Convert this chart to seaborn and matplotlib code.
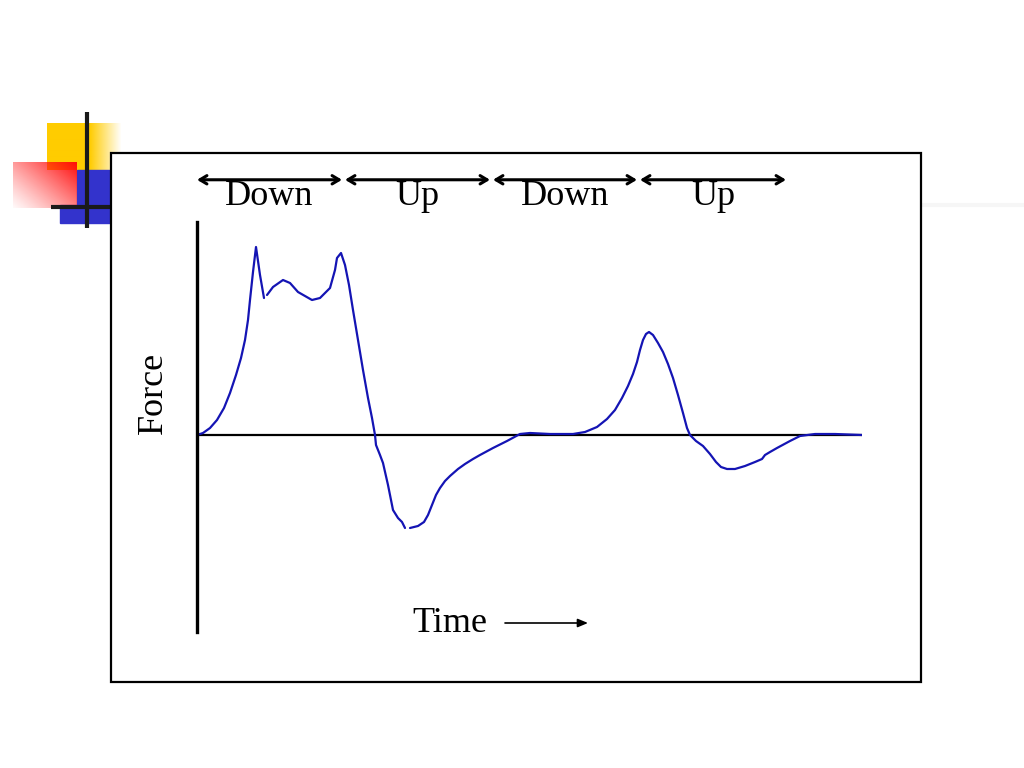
import numpy as np
import pandas as pd
import seaborn as sns
import matplotlib.pyplot as plt
from matplotlib.patches import Rectangle

# force trace (time and force in arbitrary units)
time_a = [0, 6, 13, 20, 27, 33, 39, 44, 48, 51, 53, 56, 59, 63, 67]
force_a = [0, 2, 7, 15, 27, 42, 60, 77, 95, 115, 135, 163, 188, 160, 137]
time_b = [70, 76, 86, 93, 101, 108, 115, 123, 133, 138, 140, 144, 148, 152, 156, 161, 166,
          171, 175, 178, 179, 183, 186, 191, 196, 201, 205, 208]
force_b = [140, 148, 155, 152, 143, 139, 135, 137, 147, 165, 177, 182, 170, 150, 125, 95, 65,
           37, 17, 0, -10, -20, -28, -50, -75, -83, -87, -93]
time_c = [213, 221, 227, 231, 235, 239, 243, 248, 253, 261, 268, 276, 283, 296, 310, 323,
          333, 353, 376, 388, 400, 410, 418, 425, 431, 436, 440, 443, 446, 449, 452, 456,
          461, 466, 471, 476, 481, 486, 490, 493, 499, 506, 513, 519, 524, 530, 538, 548,
          558, 565, 568, 573, 580, 593, 603, 618, 638, 665]
force_c = [-93, -91, -87, -80, -70, -60, -53, -46, -41, -34, -29, -24, -20, -13, -6, 1,
           2, 1, 1, 3, 8, 16, 25, 37, 49, 61, 73, 85, 95, 101, 103, 100,
           92, 83, 71, 57, 40, 22, 7, 0, -6, -11, -19, -27, -32, -34, -34, -31,
           -27, -24, -20, -17, -13, -6, -1, 1, 1, 0]

phase_labels = ['Down', 'Up', 'Down', 'Up']
phase_start = [0, 148, 296, 443]
phase_end = [145, 293, 440, 589]

df = pd.concat([
    pd.DataFrame({'time': time_a, 'force': force_a, 'stroke': 0}),
    pd.DataFrame({'time': time_b, 'force': force_b, 'stroke': 1}),
    pd.DataFrame({'time': time_c, 'force': force_c, 'stroke': 2}),
])

sns.set_style('white')
plt.rcParams['font.family'] = ['Liberation Serif', 'DejaVu Serif']
plt.rcParams['text.color'] = 'black'
W, H = 1024, 768
fig = plt.figure(figsize=(W / 100, H / 100), dpi=100)

# slide decoration in pixel coordinates
bg = fig.add_axes([0, 0, 1, 1])
bg.set_xlim(0, W)
bg.set_ylim(H, 0)
bg.axis('off')

yel = np.ones((10, 80, 4))
yel[..., :3] = [1.0, 0.8, 0.0]
yel[..., 3] = np.clip((122 - np.linspace(47, 127, 80)) / 32, 0, 1)[None, :]
bg.imshow(yel, extent=(47, 127, 170, 123), zorder=1, interpolation='bilinear')
bg.add_patch(Rectangle((60, 205), 50, 18, color='#3333CC', zorder=2))
bg.add_patch(Rectangle((77, 170), 33, 40, color='#3333CC', zorder=2))
u = np.linspace(0, 1, 64)[None, :]
v = np.linspace(0, 1, 46)[:, None]
red = np.ones((46, 64, 4))
red[..., :3] = [1.0, 0.05, 0.05]
red[..., 3] = np.clip(0.05 + 0.95 * (1.2 * u + (1 - v)) / 2.2, 0, 1) ** 1.2
bg.imshow(red, extent=(13, 77, 208, 162), zorder=3, interpolation='bilinear')
bg.plot([87, 87], [112, 228], color='#1a1a1a', lw=3, zorder=4, solid_capstyle='butt')
bg.plot([51, 115], [207, 207], color='#1a1a1a', lw=3, zorder=4, solid_capstyle='butt')
bg.plot([921, 1024], [205, 205], color='#f6f6f6', lw=3, zorder=4)
bg.add_patch(Rectangle((111, 153), 810, 529, facecolor='white', edgecolor='black',
                       lw=1.6, zorder=5))

# main chart
ax = fig.add_axes([197 / W, (H - 632) / H, 665 / W, 410 / H])
ax.patch.set_alpha(0)
sns.lineplot(data=df, x='time', y='force', units='stroke', estimator=None, sort=False,
             color='#1414B4', lw=1.6, ax=ax)
ax.axhline(0, color='black', lw=1.6, zorder=1)
ax.set_xlim(0, 665)
ax.set_ylim(-197, 213)
for s in ['top', 'right', 'bottom']:
    ax.spines[s].set_visible(False)
ax.spines['left'].set_linewidth(2.4)
ax.spines['left'].set_color('black')
ax.set_xticks([])
ax.set_yticks([])
ax.set_xlabel('')
ax.set_ylabel('')

# phase arrows above the plot
trans = ax.get_xaxis_transform()
for lab, t0, t1 in zip(phase_labels, phase_start, phase_end):
    ax.annotate('', xy=(t1, 1.103), xytext=(t0, 1.103), xycoords=trans, textcoords=trans,
                arrowprops=dict(arrowstyle='<->,head_length=0.5,head_width=0.3',
                                lw=2.2, color='black', shrinkA=0, shrinkB=0),
                annotation_clip=False)
    ax.text((t0 + t1) / 2, 1.061, lab, transform=trans, ha='center', va='center',
            fontsize=26, clip_on=False)

fig.text(153 / W, 1 - 393 / H, 'Force', rotation=90, ha='center', va='center', fontsize=26)
fig.text(450 / W, 1 - 623 / H, 'Time', ha='center', va='center', fontsize=26)
fig.add_artist(plt.Line2D([505 / W, 580 / W], [1 - 623 / H] * 2, color='black', lw=1.2))
ax.annotate('', xy=(588 / W, 1 - 623 / H), xytext=(578 / W, 1 - 623 / H),
            xycoords='figure fraction', textcoords='figure fraction',
            arrowprops=dict(arrowstyle='-|>,head_length=0.6,head_width=0.25', lw=1.2,
                            color='black', shrinkA=0, shrinkB=0))

fig.savefig('out.png', dpi=100)
